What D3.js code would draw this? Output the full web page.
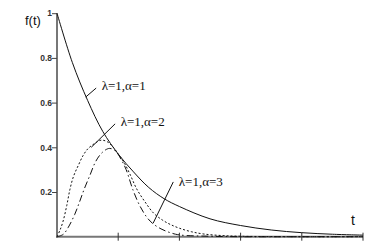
<!DOCTYPE html>
<html><head><meta charset="utf-8">
<script src="https://cdn.jsdelivr.net/npm/d3@7"></script>
<style>html,body{margin:0;padding:0;background:#fff;}svg{display:block;}</style>
</head><body>
<svg id="chart" width="384" height="251"></svg>
<script>
// Data
const yTicks = [0.2, 0.4, 0.6, 0.8, 1];
const yTickLabels = ["0.2", "0.4", "0.6", "0.8", "1"];
const xTicks = [1, 2, 3, 4, 5];
const seriesNames = ["λ=1,α=1", "λ=1,α=2", "λ=1,α=3"];

const tA1 = [0, 0.25, 0.5, 0.75, 1, 1.25, 1.5, 1.75, 2, 2.5, 3, 3.5, 4, 4.5, 5];
const vA1 = [1, 0.78, 0.61, 0.47, 0.37, 0.29, 0.22, 0.17, 0.135, 0.08, 0.05, 0.03, 0.018, 0.011, 0.007];

const tA2 = [0, 0.05, 0.1, 0.16, 0.21, 0.27, 0.35, 0.43, 0.51, 0.62, 0.72, 0.82, 0.92, 1.0, 1.1, 1.2, 1.3, 1.44, 1.58, 1.72, 1.85, 2.0, 2.2, 2.4, 2.7, 3.0, 4.0, 5.0];
const vA2 = [0, 0.03, 0.07, 0.14, 0.21, 0.27, 0.32, 0.365, 0.395, 0.418, 0.432, 0.425, 0.4, 0.37, 0.33, 0.275, 0.215, 0.155, 0.105, 0.075, 0.055, 0.038, 0.022, 0.012, 0.005, 0.002, 0, 0];

const tA3 = [0, 0.1, 0.18, 0.29, 0.37, 0.45, 0.54, 0.62, 0.7, 0.79, 0.86, 0.95, 1.05, 1.13, 1.24, 1.35, 1.46, 1.56, 1.7, 1.85, 2.0, 2.5, 3.0, 4.0, 5.0];
const vA3 = [0, 0.01, 0.04, 0.1, 0.157, 0.217, 0.276, 0.33, 0.365, 0.388, 0.395, 0.385, 0.345, 0.3, 0.21, 0.14, 0.09, 0.06, 0.035, 0.018, 0.008, 0.002, 0, 0, 0];

// pointer lines: label anchor -> curve point (in data units)
const pointerFrom = [[0.64, 0.665], [0.95, 0.505], [1.9, 0.245]];
const pointerTo   = [[0.47, 0.625], [0.56, 0.40], [1.57, 0.06]];
const labelPos    = [[0.73, 0.655], [1.04, 0.495], [1.99, 0.225]];

const svg = d3.select("#chart");
const x = d3.scaleLinear().domain([0, 5]).range([57, 363]);
const y = d3.scaleLinear().domain([0, 1]).range([236.7, 13.2]);

// axes lines
svg.append("line").attr("x1", x(0)).attr("x2", x(0)).attr("y1", y(0) + 1).attr("y2", y(1))
  .attr("stroke", "#777").attr("stroke-width", 2);
svg.append("line").attr("x1", x(0) - 1).attr("x2", x(5)).attr("y1", y(0)).attr("y2", y(0))
  .attr("stroke", "#777").attr("stroke-width", 2);

// y ticks and labels
const yAxis = d3.axisLeft(y).tickValues(yTicks).tickSize(5).tickFormat((d, i) => yTickLabels[i]);
const gy = svg.append("g").attr("transform", `translate(${x(0)},0)`).call(yAxis);
gy.select(".domain").remove();
gy.selectAll(".tick line").attr("stroke", "#444").attr("stroke-width", 1);
gy.selectAll(".tick text").attr("x", -5).attr("font-family", "Arial, 'Liberation Sans', sans-serif")
  .attr("font-size", "8.5px").attr("font-weight", "bold").attr("fill", "#333");

// x ticks (crossing)
const gx = svg.append("g");
gx.selectAll("line").data(xTicks).join("line")
  .attr("x1", d => x(d)).attr("x2", d => x(d))
  .attr("y1", y(0) - 4).attr("y2", y(0) + 4)
  .attr("stroke", "#333").attr("stroke-width", 1);

// curves
const line = d3.line().x(d => x(d[0])).y(d => y(d[1])).curve(d3.curveCatmullRom.alpha(0.5));
const series = [
  {t: tA1, v: vA1, dash: null},
  {t: tA2, v: vA2, dash: "2,2"},
  {t: tA3, v: vA3, dash: "7,3,1.5,3"}
];
series.forEach(s => {
  const pts = s.t.map((t, i) => [t, s.v[i]]);
  svg.append("path").attr("d", line(pts)).attr("fill", "none")
    .attr("stroke", "#111").attr("stroke-width", 1)
    .attr("stroke-dasharray", s.dash);
});

// pointer lines and labels
seriesNames.forEach((name, i) => {
  svg.append("line")
    .attr("x1", x(pointerFrom[i][0])).attr("y1", y(pointerFrom[i][1]))
    .attr("x2", x(pointerTo[i][0])).attr("y2", y(pointerTo[i][1]))
    .attr("stroke", "#111").attr("stroke-width", 1);
  svg.append("text").attr("x", x(labelPos[i][0])).attr("y", y(labelPos[i][1]))
    .attr("font-family", "'Liberation Serif', 'Times New Roman', serif")
    .attr("font-size", "13px").attr("fill", "#111").text(name);
});

// axis titles
svg.append("text").attr("x", 25).attr("y", 25)
  .attr("font-family", "Arial, 'Liberation Sans', sans-serif").attr("font-size", "13px")
  .attr("fill", "#111").text("f(t)");
svg.append("text").attr("x", 351).attr("y", 225)
  .attr("font-family", "Arial, 'Liberation Sans', sans-serif").attr("font-size", "14px")
  .attr("fill", "#111").text("t");
</script>
</body></html>
